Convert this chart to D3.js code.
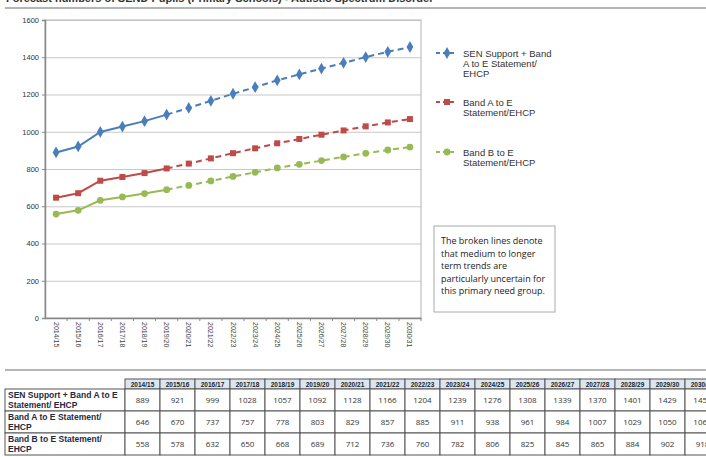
<!DOCTYPE html>
<html>
<head>
<meta charset="utf-8">
<script src="https://cdn.jsdelivr.net/npm/d3@7"></script>
<style>
  body { margin: 0; background: #fff; }
  svg { display: block; font-family: "Liberation Sans", Arial, sans-serif; }
</style>
</head>
<body>
<div id="chart"></div>
<script>
const years = ["2014/15","2015/16","2016/17","2017/18","2018/19","2019/20","2020/21","2021/22",
  "2022/23","2023/24","2024/25","2025/26","2026/27","2027/28","2028/29","2029/30","2030/31"];

const senSupport = [889, 921, 999, 1028, 1057, 1092, 1128, 1166, 1204, 1239, 1276, 1308, 1339, 1370, 1401, 1429, 1455];
const bandAtoE   = [646, 670, 737, 757, 778, 803, 829, 857, 885, 911, 938, 961, 984, 1007, 1029, 1050, 1068];
const bandBtoE   = [558, 578, 632, 650, 668, 689, 712, 736, 760, 782, 806, 825, 845, 865, 884, 902, 918];

const yTicks = [0, 200, 400, 600, 800, 1000, 1200, 1400, 1600];

const series = [
  { name: ["SEN Support + Band", "A to E Statement/", "EHCP"], rowLabel: ["SEN Support + Band A to E", "Statement/ EHCP"],
    values: senSupport, color: "#4a7ebb", shape: d3.symbolDiamond, size: 40, legendY: 53 },
  { name: ["Band A to E", "Statement/EHCP"], rowLabel: ["Band A to E Statement/", "EHCP"],
    values: bandAtoE, color: "#be4b48", shape: d3.symbolSquare, size: 36, legendY: 102 },
  { name: ["Band B to E", "Statement/EHCP"], rowLabel: ["Band B to E Statement/", "EHCP"],
    values: bandBtoE, color: "#98b954", shape: d3.symbolCircle, size: 36, legendY: 152 }
];

const solidUntil = 5; // last index of the solid (actual) part

const width = 706, height = 457;
const svg = d3.select("#chart").append("svg")
  .attr("width", width).attr("height", height);

const sans = "'Liberation Sans', Arial, sans-serif";

// cut-off title and separators
svg.append("text").attr("x", 6).attr("y", 1.5)
  .attr("font-size", 11).attr("font-weight", "bold").attr("fill", "#333")
  .text("Forecast numbers of SEND Pupils (Primary Schools) - Autistic Spectrum Disorder");
svg.append("rect").attr("x", 5).attr("y", 7).attr("width", 701).attr("height", 2).attr("fill", "#b5b5b5");
svg.append("rect").attr("x", 5).attr("y", 369).attr("width", 701).attr("height", 2).attr("fill", "#b5b5b5");

const pLeft = 45, pRight = 421, pTop = 20, pBottom = 318;

const x = d3.scaleBand().domain(years).range([pLeft, pRight]);
const y = d3.scaleLinear().domain([0, 1600]).range([pBottom, pTop]);
const cx = d => x(d) + x.bandwidth() / 2;

// gridlines
svg.append("g")
  .attr("transform", `translate(${pLeft},0)`)
  .call(d3.axisLeft(y).tickValues(yTicks).tickSize(-(pRight - pLeft)).tickFormat(""))
  .call(g => g.select(".domain").remove())
  .call(g => g.selectAll("line").attr("stroke", "#c8c8c8").attr("stroke-width", 1));

// frame
svg.append("rect").attr("x", pLeft).attr("y", pTop).attr("width", pRight - pLeft).attr("height", pBottom - pTop)
  .attr("fill", "none").attr("stroke", "#c0c0c0").attr("stroke-width", 1.2);

// y axis
svg.append("g")
  .attr("transform", `translate(${pLeft},0)`)
  .call(d3.axisLeft(y).tickValues(yTicks).tickFormat(d3.format("d")).tickSize(3).tickPadding(3))
  .call(g => g.select(".domain").attr("stroke", "#888").attr("stroke-width", 1.5))
  .call(g => g.selectAll("line").attr("stroke", "#888"))
  .call(g => g.selectAll("text").attr("font-size", 7.5).attr("fill", "#333").style("font-family", sans));

// x axis
const xAxis = svg.append("g")
  .attr("transform", `translate(0,${pBottom})`)
  .call(d3.axisBottom(x).tickSize(0).tickPadding(0));
xAxis.attr("font-family", null);
xAxis.select(".domain").attr("stroke", "#888").attr("stroke-width", 1.5);
xAxis.selectAll("text")
  .style("font-family", sans).style("font-size", "7px").attr("fill", "#444")
  .attr("text-anchor", "start").attr("dy", "0.35em")
  .attr("transform", "translate(0,4) rotate(90)").attr("y", 0).attr("x", 0);
svg.append("g").selectAll("line")
  .data(years)
  .join("line")
  .attr("x1", (d, i) => pLeft + x.step() * (i + 1)).attr("x2", (d, i) => pLeft + x.step() * (i + 1))
  .attr("y1", pBottom).attr("y2", pBottom + 3)
  .attr("stroke", "#888");

// lines
const line = d3.line().x(d => cx(d.year)).y(d => y(d.v));
series.forEach(s => {
  const pts = years.map((yr, i) => ({ year: yr, v: s.values[i] }));
  svg.append("path").datum(pts.slice(0, solidUntil + 1))
    .attr("d", line).attr("fill", "none").attr("stroke", s.color).attr("stroke-width", 2);
  svg.append("path").datum(pts.slice(solidUntil))
    .attr("d", line).attr("fill", "none").attr("stroke", s.color).attr("stroke-width", 2)
    .attr("stroke-dasharray", "6,4");
  svg.append("g").selectAll("path")
    .data(pts).join("path")
    .attr("transform", d => `translate(${cx(d.year)},${y(d.v)})`)
    .attr("d", d3.symbol().type(s.shape).size(s.size))
    .attr("fill", s.color);
});

// legend
series.forEach(s => {
  const g = svg.append("g");
  g.append("line").attr("x1", 436).attr("x2", 457).attr("y1", s.legendY).attr("y2", s.legendY)
    .attr("stroke", s.color).attr("stroke-width", 2).attr("stroke-dasharray", "4,3");
  g.append("path").attr("transform", `translate(447,${s.legendY})`)
    .attr("d", d3.symbol().type(s.shape).size(s.size)).attr("fill", s.color);
  g.append("text").attr("x", 463).attr("y", s.legendY + 3.5)
    .attr("font-size", 9.5).attr("fill", "#333")
    .selectAll("tspan").data(s.name).join("tspan")
    .attr("x", 463).attr("dy", (d, i) => i ? 10 : 0).text(d => d);
});

// note box
const note = ["The broken lines denote", "that medium to longer", "term trends are",
  "particularly uncertain for", "this primary need group."];
svg.append("rect").attr("x", 434).attr("y", 226).attr("width", 121).attr("height", 86)
  .attr("fill", "#fff").attr("stroke", "#aaa").attr("stroke-width", 1);
svg.append("text").attr("font-size", 9).attr("fill", "#222").style("font-family", "'Open Sans', sans-serif")
  .selectAll("tspan").data(note).join("tspan")
  .attr("x", 441).attr("y", (d, i) => 244 + i * 12.6).text(d => d);

// table
const colX = d3.scaleBand().domain(years).range([125, 125 + 35 * years.length]);
const rowY = [379, 389, 411, 433, 455];
const tbl = svg.append("g");

tbl.selectAll("rect.head").data(years).join("rect")
  .attr("x", d => colX(d)).attr("y", rowY[0]).attr("width", colX.bandwidth()).attr("height", rowY[1] - rowY[0])
  .attr("fill", "#dce6f0").attr("stroke", "#555").attr("stroke-width", 1);
tbl.selectAll("text.head").data(years).join("text")
  .attr("x", d => colX(d) + colX.bandwidth() / 2).attr("y", rowY[0] + 8)
  .attr("text-anchor", "middle").attr("font-size", 6.5).attr("font-weight", "bold").attr("fill", "#222")
  .text(d => d);

series.forEach((s, r) => {
  const y0 = rowY[r + 1], h = rowY[r + 2] - y0;
  tbl.append("rect").attr("x", 5).attr("y", y0).attr("width", 120).attr("height", h)
    .attr("fill", "#fff").attr("stroke", "#555");
  tbl.append("text").attr("font-size", 8.5).attr("font-weight", "bold").attr("fill", "#1f2a44")
    .selectAll("tspan").data(s.rowLabel).join("tspan")
    .attr("x", 8).attr("y", (d, i) => y0 + 9 + i * 10).text(d => d);
  tbl.append("g").selectAll("rect").data(years).join("rect")
    .attr("x", d => colX(d)).attr("y", y0).attr("width", colX.bandwidth()).attr("height", h)
    .attr("fill", "#fff").attr("stroke", "#555");
  tbl.append("g").selectAll("text").data(years).join("text")
    .attr("x", d => colX(d) + colX.bandwidth() / 2).attr("y", y0 + h / 2 + 3)
    .attr("text-anchor", "middle").attr("font-size", 8).attr("fill", "#333")
    .style("font-family", "'Open Sans', sans-serif")
    .text((d, i) => s.values[i]);
});
</script>
</body>
</html>
